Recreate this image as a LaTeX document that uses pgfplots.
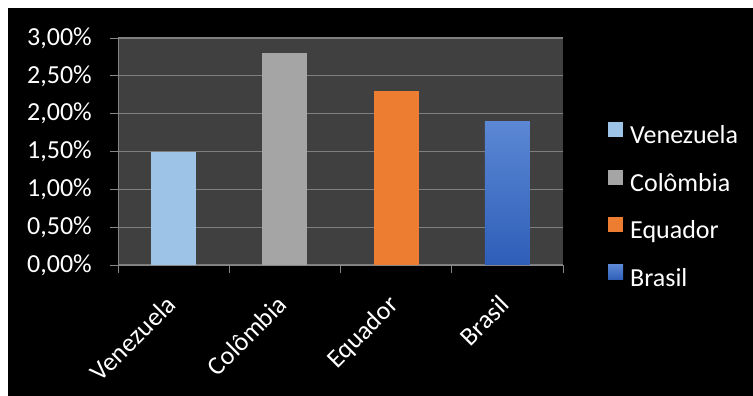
\documentclass[border=0pt]{standalone}
\usepackage{pgfplots}
\pgfplotsset{compat=1.18}
\usepackage{fontspec}
\setmainfont{Carlito}
\definecolor{plotbg}{HTML}{404040}
\definecolor{gridgray}{HTML}{7F7F7F}
\definecolor{axisgray}{HTML}{868686}
\definecolor{venez}{HTML}{9DC3E6}
\definecolor{colom}{HTML}{A5A5A5}
\definecolor{equad}{HTML}{ED7D31}
\definecolor{brtop}{HTML}{5B87D4}
\definecolor{brbot}{HTML}{2E5EB8}
\begin{document}
\begin{tikzpicture}
\fill[white] (0,0) rectangle (753bp,396bp);
\fill[black] (8bp,0) rectangle (753bp,388bp);
\begin{axis}[
  at={(118bp,131bp)}, anchor=south west,
  scale only axis, width=445bp, height=227bp,
  xmin=-0.5, xmax=3.5, ymin=0, ymax=3,
  axis background/.style={fill=plotbg},
  axis lines*=left,
  axis line style={axisgray, line width=1bp},
  ytick={0,0.5,1,1.5,2,2.5,3},
  ymajorgrids,
  grid style={gridgray, line width=1.3bp},
  xtick={0,1,2,3},
  xticklabels={Venezuela,Colômbia,Equador,Brasil},
  minor xtick={-0.5,0.5,1.5,2.5,3.5},
  tick align=outside,
  major tick length=8bp, minor tick length=8bp,
  major x tick style={draw=none},
  tick style={axisgray, line width=1bp},
  /pgf/number format/assume math mode=true,
  yticklabel={\pgfmathprintnumber[fixed, fixed zerofill, precision=2, use comma]{\tick}\%},
  tick label style={font=\fontsize{26bp}{30bp}\selectfont, text=white},
  yticklabel style={anchor=east, inner sep=0pt, xshift=-18bp},
  xticklabel style={rotate=45, anchor=north east, inner sep=0pt, yshift=-8bp, xshift=-21bp},
  legend style={at={(1.0944,0.638)}, anchor=north west, draw=none, fill=none,
    font=\fontsize{26bp}{30bp}\selectfont, text=white,
    nodes={inner sep=0pt, text height=17bp, text depth=5bp},
    row sep=21bp},
  legend cell align=left,
  legend image code/.code={\path[#1, draw=none] (0bp,0.5bp) rectangle (15bp,15.5bp);\path (22bp,0bp);},
]
\addplot[ybar, bar width=45bp, bar shift=0pt, fill=venez, draw=none] coordinates {(0,1.5)};
\addlegendentry{Venezuela}
\addplot[ybar, bar width=45bp, bar shift=0pt, fill=colom, draw=none] coordinates {(1,2.8)};
\addlegendentry{Colômbia}
\addplot[ybar, bar width=45bp, bar shift=0pt, fill=equad, draw=none] coordinates {(2,2.3)};
\addlegendentry{Equador}
\addplot[ybar, bar width=45bp, bar shift=0pt, top color=brtop, bottom color=brbot, draw=none] coordinates {(3,1.9)};
\addlegendentry{Brasil}
\end{axis}
\end{tikzpicture}
\end{document}
